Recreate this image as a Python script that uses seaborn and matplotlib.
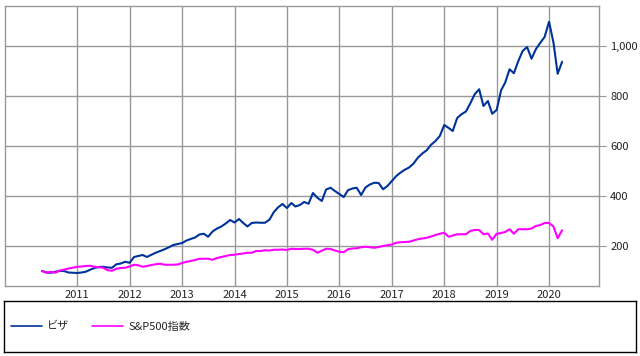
import numpy as np
import pandas as pd
import seaborn as sns
import matplotlib
matplotlib.use("Agg")
from matplotlib import pyplot as plt
from matplotlib.ticker import FuncFormatter

# monthly values, 2010-05 .. 2020-04, indexed to 100 at start
visa = [100, 94, 93, 97, 100, 100, 94, 93, 92, 94,
        97, 105, 112, 116, 117, 114, 113, 127, 130, 137,
        133, 156, 160, 164, 156, 165, 173, 180, 187, 195,
        204, 208, 212, 222, 228, 234, 246, 249, 237, 258,
        270, 278, 290, 304, 294, 308, 293, 278, 292, 294,
        293, 293, 305, 335, 355, 368, 352, 372, 358, 364,
        376, 369, 412, 393, 380, 426, 433, 420, 408, 396,
        423, 430, 433, 404, 434, 446, 453, 452, 427, 440,
        460, 480, 493, 505, 514, 530, 553, 570, 583, 605,
        620, 640, 684, 672, 660, 712, 727, 738, 770, 807,
        827, 760, 780, 729, 744, 823, 853, 907, 891, 940,
        980, 996, 949, 987, 1013, 1036, 1097, 1013, 889, 937]

sp500 = [100, 93, 97, 93, 102, 105, 110, 113, 117, 118,
         120, 121, 117, 115, 113, 103, 101, 109, 112, 113,
         118, 125, 123, 117, 120, 124, 127, 129, 125, 125,
         125, 126, 132, 137, 140, 144, 149, 149, 149, 145,
         152, 156, 160, 164, 165, 168, 170, 173, 173, 180,
         180, 183, 182, 185, 185, 186, 184, 189, 188, 188,
         189, 189, 185, 173, 181, 189, 188, 182, 177, 175,
         187, 190, 191, 195, 197, 195, 193, 196, 200, 203,
         206, 213, 215, 216, 217, 222, 227, 230, 233, 238,
         244, 249, 253, 237, 242, 247, 247, 247, 260, 264,
         264, 247, 250, 225, 249, 252, 256, 267, 249, 267,
         267, 267, 270, 280, 284, 292, 292, 278, 231, 263]

series_names = ["ビザ", "S&P500指数"]
series_colors = ["#003399", "#ff00ff"]
years = list(range(2011, 2021))

dates = pd.date_range("2010-05-01", periods=len(visa), freq="MS")
df = pd.DataFrame({
    "date": np.concatenate([dates, dates]),
    "value": visa + sp500,
    "name": [series_names[0]] * len(visa) + [series_names[1]] * len(sp500),
})

sns.set_style("white")
plt.rcParams['font.family'] = ['Noto Sans CJK JP', 'DejaVu Sans']
plt.rcParams['font.size'] = 8

fig = plt.figure(figsize=(6.4, 3.56), dpi=100)
ax = fig.add_axes([5 / 640, 1 - 286 / 356, 594 / 640, 280 / 356])

sns.lineplot(data=df, x="date", y="value", hue="name", hue_order=series_names,
             palette=series_colors, linewidth=1.5, legend=False, ax=ax)

grid_c = "#999999"
ax.set_xticks([pd.Timestamp(f"{y}-01-01") for y in years])
ax.set_xticklabels([str(y) for y in years])
ax.set_yticks([200, 400, 600, 800, 1000])
ax.yaxis.set_major_formatter(FuncFormatter(lambda v, p: f"{int(v):,}"))
ax.yaxis.tick_right()
ax.set_xlim(pd.Timestamp("2009-08-16"), pd.Timestamp("2020-12-14"))
ax.set_ylim(40, 1160)
ax.grid(True, color=grid_c, linewidth=1)
ax.set_axisbelow(True)
for s in ax.spines.values():
    s.set_color(grid_c)
    s.set_linewidth(1)
ax.tick_params(axis="x", length=0, pad=3, labelcolor="#222222")
ax.tick_params(axis="y", length=5, color=grid_c, pad=3, labelcolor="#222222")
ax.set_xlabel("")
ax.set_ylabel("")

# legend box below the plot
lax = fig.add_axes([4 / 640, 1 - 352 / 356, 632 / 640, 51 / 356])
lax.set_xticks([])
lax.set_yticks([])
for s in lax.spines.values():
    s.set_color("black")
    s.set_linewidth(1)
handles = [plt.Line2D([], [], color=c, linewidth=1.2) for c in series_colors]
lax.legend(handles, series_names, loc="center left", ncol=2, frameon=False,
           handlelength=2.8, handletextpad=0.5, columnspacing=2.0,
           borderaxespad=0.2, fontsize=8)

fig.savefig("out.png", dpi=100)
